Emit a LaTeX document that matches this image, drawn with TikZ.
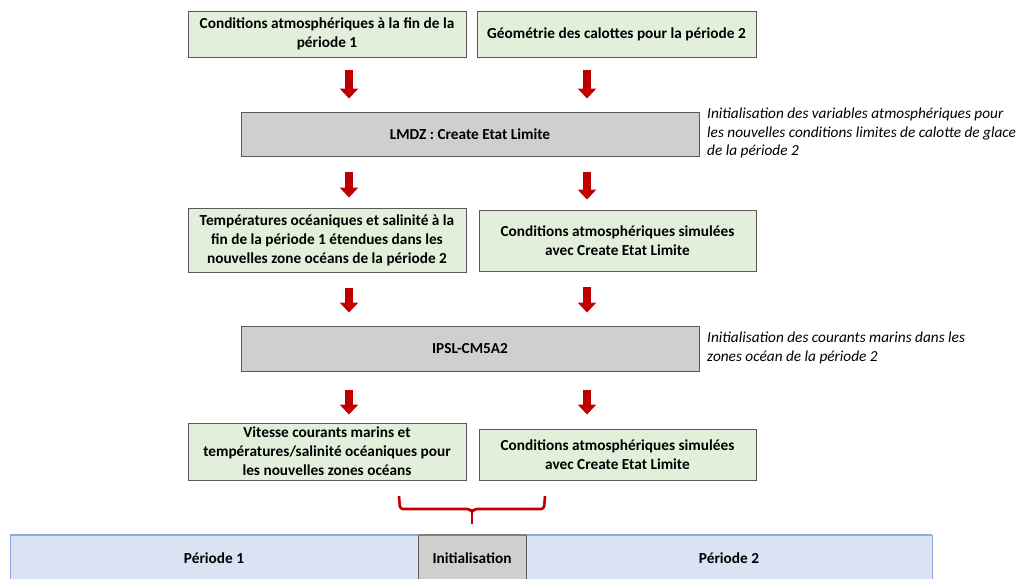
\documentclass[tikz,border=0pt]{standalone}
\usepackage{fontspec}
\setmainfont{Carlito}
\usetikzlibrary{arrows.meta}
\definecolor{boxgreen}{HTML}{E2EFDA}
\definecolor{boxgrey}{HTML}{D0CECE}
\definecolor{barblue}{HTML}{DAE3F3}
\definecolor{barline}{HTML}{8FAADC}
\definecolor{darkred}{HTML}{C00000}
\definecolor{edge}{HTML}{595959}
\tikzset{
  base/.style={draw=edge, line width=0.9pt, align=center, inner sep=0pt,
    font=\fontsize{15.3}{19}\selectfont\bfseries},
  greenbox/.style={base, fill=boxgreen},
  greybox/.style={base, fill=boxgrey},
  note/.style={align=left, anchor=north west, inner sep=0pt,
    font=\fontsize{15.3}{18.5}\selectfont\itshape},
  bigarrow/.style={draw=darkred, line width=8pt,
    -{Triangle[width=18pt,length=10pt]}},
  brace/.style={draw=darkred, line width=2.6pt, rounded corners=3pt},
  barlabel/.style={font=\fontsize{15.3}{18}\selectfont\bfseries, inner sep=0pt}
}
\begin{document}
\begin{tikzpicture}[x=1pt,y=-1pt]
\useasboundingbox (0,0) rectangle (1019,578);
\coordinate (xl) at (349,0);
\coordinate (xr) at (587,0);

\node[greenbox, minimum width=278pt, minimum height=46pt] (b1) at (327,34)
  {Conditions atmosphériques à la fin de la\\période 1};
\node[greenbox, minimum width=279pt, minimum height=46pt] (b2) at (616.5,34)
  {Géométrie des calottes pour la période 2};
\node[greybox, minimum width=458pt, minimum height=44pt] (lmdz) at (470,134)
  {LMDZ : Create Etat Limite};
\node[note] (n1) at (707,108)
  {Initialisation des variables atmosphériques pour\\les nouvelles conditions limites de calotte de glace\\de la période 2};
\node[greenbox, minimum width=278pt, minimum height=64pt] (b3) at (327,240)
  {Températures océaniques et salinité à la\\fin de la période 1 étendues dans les\\nouvelles zone océans de la période 2};
\node[greenbox, minimum width=277pt, minimum height=61pt] (b4) at (617.5,240.5)
  {Conditions atmosphériques simulées\\avec Create Etat Limite};
\node[greybox, minimum width=458pt, minimum height=45pt] (ipsl) at (470,348.5)
  {IPSL-CM5A2};
\node[note] (n2) at (707,332)
  {Initialisation des courants marins dans les\\zones océan de la période 2};
\node[greenbox, minimum width=278pt, minimum height=57pt] (b5) at (327,451.5)
  {Vitesse courants marins et\\températures/salinité océaniques pour\\les nouvelles zones océans};
\node[greenbox, minimum width=277pt, minimum height=51pt] (b6) at (617.5,454.5)
  {Conditions atmosphériques simulées\\avec Create Etat Limite};

\draw[bigarrow, shorten <=13pt, shorten >=13pt] (b1.south -| xl) -- (lmdz.north -| xl);
\draw[bigarrow, shorten <=13pt, shorten >=13pt] (b2.south -| xr) -- (lmdz.north -| xr);
\draw[bigarrow, shorten <=16pt, shorten >=10pt] (lmdz.south -| xl) -- (b3.north -| xl);
\draw[bigarrow, shorten <=16pt, shorten >=10pt] (lmdz.south -| xr) -- (b4.north -| xr);
\draw[bigarrow, shorten <=16pt, shorten >=13pt] (b3.south -| xl) -- (ipsl.north -| xl);
\draw[bigarrow, shorten <=16pt, shorten >=13pt] (b4.south -| xr) -- (ipsl.north -| xr);
\draw[bigarrow, shorten <=19pt, shorten >=8pt] (ipsl.south -| xl) -- (b5.north -| xl);
\draw[bigarrow, shorten <=19pt, shorten >=14pt] (ipsl.south -| xr) -- (b6.north -| xr);

% bottom timeline bar
\fill[barblue] (10,535) rectangle (932,590);
\draw[barline, line width=1.5pt] (10,535) -- (932,535);
\draw[barline, line width=0.6pt] (10,535) -- (10,590) (932,535) -- (932,590);
\node[minimum width=408pt, minimum height=43pt, inner sep=0pt] (p1) at (214,558) {};
\node[barlabel] at (p1.center) {Période 1};
\node[draw=edge, line width=0.9pt, fill=boxgrey, minimum width=108pt, minimum height=50pt, inner sep=0pt,
  anchor=north] (init) at (472,535) {};
\draw[draw=gray, line width=2pt] (init.north west) -- (init.north east);
\node[barlabel] at (472,558) {Initialisation};
\node[minimum width=406pt, minimum height=43pt, inner sep=0pt] (p2) at (729,558) {};
\node[barlabel] at (p2.center) {Période 2};

% brace
\coordinate (bl) at (399,496);
\coordinate (br) at (545,496);
\coordinate (bt) at (472,524);
\draw[brace] (bl) -- (400,509) -- (470,509) -- (472,512);
\draw[brace] (br) -- (544,509) -- (474,509) -- (472,512);
\draw[draw=darkred, line width=2.6pt] (472,509) -- (bt);
\end{tikzpicture}
\end{document}
